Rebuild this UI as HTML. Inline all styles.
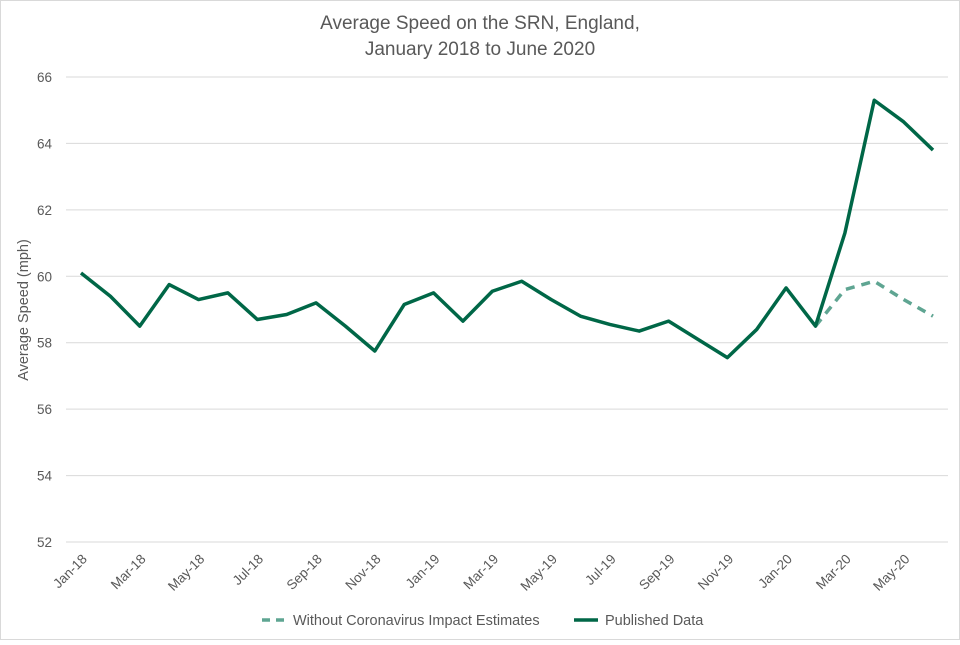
<!DOCTYPE html>
<html><head><meta charset="utf-8"><style>
body{margin:0;background:#fff;font-family:"Liberation Sans",sans-serif;}
svg text{font-family:"Liberation Sans",sans-serif;fill:#595959;}
</style></head><body>
<svg width="960" height="640" viewBox="0 0 960 640">
<rect x="0.5" y="0.5" width="959" height="639" fill="#fff" stroke="#d9d9d9"/>
<text x="480" y="29" text-anchor="middle" font-size="19">Average Speed on the SRN, England,</text>
<text x="480" y="55" text-anchor="middle" font-size="19">January 2018 to June 2020</text>
<text transform="translate(28,310) rotate(-90)" text-anchor="middle" font-size="14.5">Average Speed (mph)</text>
<g id="grid"></g><g id="ylab"></g><g id="xlab"></g><g id="series"></g>
<g>
<line x1="262" y1="620" x2="286" y2="620" stroke="#5fa592" stroke-width="3.5" stroke-dasharray="8,6"/>
<text x="293" y="625" font-size="14.5">Without Coronavirus Impact Estimates</text>
<line x1="574" y1="620" x2="598" y2="620" stroke="#006747" stroke-width="3.5"/>
<text x="605" y="625" font-size="14.5">Published Data</text>
</g>
</svg>
<script>
const months=["Jan-18","Feb-18","Mar-18","Apr-18","May-18","Jun-18","Jul-18","Aug-18","Sep-18","Oct-18","Nov-18","Dec-18","Jan-19","Feb-19","Mar-19","Apr-19","May-19","Jun-19","Jul-19","Aug-19","Sep-19","Oct-19","Nov-19","Dec-19","Jan-20","Feb-20","Mar-20","Apr-20","May-20","Jun-20"];
const published=[60.1,59.4,58.5,59.75,59.3,59.5,58.7,58.85,59.2,58.5,57.75,59.15,59.5,58.65,59.55,59.85,59.3,58.8,58.55,58.35,58.65,58.1,57.55,58.4,59.65,58.5,61.3,65.3,64.65,63.8];
const withoutStart=25;
const withoutCovid=[58.5,59.6,59.85,59.3,58.8];
const yTicks=[52,54,56,58,60,62,64,66];
const NS="http://www.w3.org/2000/svg";
const X0=81,X1=933,Y0=542,Y1=77,YMIN=52,YMAX=66;
function xs(i){return X0+(X1-X0)*i/(months.length-1);}
function ys(v){return Y0-(v-YMIN)/(YMAX-YMIN)*(Y0-Y1);}
function mk(t,a,p){const e=document.createElementNS(NS,t);for(const k in a)e.setAttribute(k,a[k]);p.appendChild(e);return e;}
const grid=document.getElementById('grid'),ylab=document.getElementById('ylab'),xlab=document.getElementById('xlab'),ser=document.getElementById('series');
yTicks.forEach(v=>{
 const l=mk('line',{x1:66,x2:948,y1:ys(v),y2:ys(v),stroke:'#d9d9d9','stroke-width':1},grid);
 
 
 const t=mk('text',{x:52,y:ys(v)+5,'text-anchor':'end','font-size':13.5},ylab);t.textContent=v;
 
 
});
months.forEach((m,i)=>{
 if(i%2)return;
 const x=xs(i),y=557;
 const t=mk('text',{x:x+4,y:y+4,'text-anchor':'end','font-size':13.5,transform:`rotate(-45 ${x+4} ${y})`},xlab);t.textContent=m;
 
 
});
const d=withoutCovid.map((v,i)=>(i?'L':'M')+xs(withoutStart+i)+','+ys(v)).join(' ');
const p1=mk('path',{d:d,fill:'none',stroke:'#5fa592','stroke-width':3.5,'stroke-dasharray':'9,7','stroke-linejoin':'round'},ser);


const d2=published.map((v,i)=>(i?'L':'M')+xs(i)+','+ys(v)).join(' ');
const p2=mk('path',{d:d2,fill:'none',stroke:'#006747','stroke-width':3.5,'stroke-linejoin':'round'},ser);


</script>
</body></html>
